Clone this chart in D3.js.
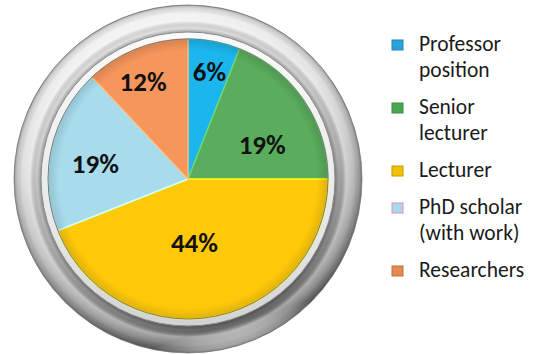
<!DOCTYPE html>
<html>
<head>
<meta charset="utf-8">
<script src="https://cdn.jsdelivr.net/npm/d3@7"></script>
<style>
  html, body { margin: 0; padding: 0; background: #fff; }
  svg { display: block; }
</style>
</head>
<body>
<svg id="chart" width="534" height="354"></svg>
<script>
// ---- data ----
const categories = ["Professor position", "Senior lecturer", "Lecturer", "PhD scholar (with work)", "Researchers"];
const legendLines = [["Professor", "position"], ["Senior", "lecturer"], ["Lecturer"], ["PhD scholar", "(with work)"], ["Researchers"]];
const values = [6, 19, 44, 19, 12];
const labels = ["6%", "19%", "44%", "19%", "12%"];

// ---- styles ----
const colors = ["#1cb6ef", "#5aad5c", "#ffc90a", "#a8dcec", "#f6955c"];
const markerColors = ["#2aa3dc", "#4aa64f", "#f2c100", "#a9d9ea", "#e48a52"];
const markerStroke = ["#1a86b8", "#3a8a3e", "#c89a00", "#d597ad", "#c0703e"];

const svg = d3.select("#chart");
const cx = 188, cy = 179, R = 140, ringOuter = 174;
const defs = svg.append("defs");

// ring gradients
const lg = defs.append("linearGradient").attr("id", "ringLin")
  .attr("x1", "0.3").attr("y1", "0").attr("x2", "0.6").attr("y2", "1");
[[0, "#f4f4f4"], [0.35, "#dadada"], [0.6, "#b4b4b4"], [0.82, "#888888"], [0.93, "#6c6c6c"], [1, "#d0d0d0"]]
  .forEach(([o, c]) => lg.append("stop").attr("offset", o).attr("stop-color", c));

const rg = defs.append("radialGradient").attr("id", "ringRad")
  .attr("gradientUnits", "userSpaceOnUse").attr("cx", 0).attr("cy", 0).attr("r", ringOuter);
[[0, "#000", 0], [146 / ringOuter, "#000", 0.35], [151 / ringOuter, "#000", 0.05], [158 / ringOuter, "#fff", 0.4],
 [166 / ringOuter, "#fff", 0.15], [171 / ringOuter, "#000", 0.1], [1, "#000", 0.3]]
  .forEach(([o, c, a]) => rg.append("stop").attr("offset", o).attr("stop-color", c).attr("stop-opacity", a));

const innerG = defs.append("linearGradient").attr("id", "innerLin")
  .attr("x1", "0").attr("y1", "0").attr("x2", "0").attr("y2", "1");
[[0, "#fafafa"], [0.7, "#e6e6e6"], [1, "#d2d2d2"]]
  .forEach(([o, c]) => innerG.append("stop").attr("offset", o).attr("stop-color", c));

// pie shading overlay
const pieShade = defs.append("radialGradient").attr("id", "pieShade")
  .attr("gradientUnits", "userSpaceOnUse").attr("cx", 0).attr("cy", 0).attr("r", R);
[[0, "#000", 0], [0.92, "#000", 0], [1, "#000", 0.12]]
  .forEach(([o, c, a]) => pieShade.append("stop").attr("offset", o).attr("stop-color", c).attr("stop-opacity", a));

const g = svg.append("g").attr("transform", `translate(${cx},${cy})`);

// bezel
g.append("circle").attr("r", ringOuter).attr("fill", "url(#ringLin)").attr("stroke", "#9a9a9a").attr("stroke-width", 1);
g.append("circle").attr("r", ringOuter).attr("fill", "url(#ringRad)");
g.append("circle").attr("r", 147).attr("fill", "url(#innerLin)").attr("stroke", "#8c8c8c").attr("stroke-width", 1);

// pie
const pie = d3.pie().sort(null).value(d => d);
const arcs = pie(values);
const arc = d3.arc().innerRadius(0).outerRadius(R);

g.selectAll("path.slice").data(arcs).enter().append("path")
  .attr("class", "slice")
  .attr("d", arc)
  .attr("fill", (d, i) => colors[i])
  .attr("stroke", (d, i) => d3.color(colors[i]).brighter(0.6))
  .attr("stroke-width", 1.5)
  .attr("stroke-linejoin", "round");

g.append("circle").attr("r", R).attr("fill", "url(#pieShade)").attr("stroke", "#7a7a7a").attr("stroke-width", 1);

// labels (best-fit placement: radius and angle tweak per slice)
const labelPlace = [[110, 0.5], [82, 9], [64, 5], [94, -3], [108, -3]];
g.selectAll("text.lbl").data(arcs).enter().append("text")
  .attr("class", "lbl")
  .attr("transform", (d, i) => {
    const a = (d.startAngle + d.endAngle) / 2 + labelPlace[i][1] * Math.PI / 180;
    const r = labelPlace[i][0];
    return `translate(${r * Math.sin(a)},${-r * Math.cos(a)})`;
  })
  .attr("text-anchor", "middle")
  .attr("dy", "0.36em")
  .attr("font-family", "Carlito, Calibri, Lato, sans-serif")
  .attr("font-weight", "bold")
  .attr("font-size", 27)
  .attr("fill", "#111")
  .text((d, i) => labels[i]);

// legend
const legend = svg.append("g").attr("class", "legend");
const lineH = 26, itemGap = 37;
let y = 51;
categories.forEach((c, i) => {
  const item = legend.append("g");
  item.append("rect").attr("x", 392).attr("y", y - 11).attr("width", 11).attr("height", 10)
    .attr("fill", markerColors[i]).attr("stroke", markerStroke[i]).attr("stroke-width", 1);
  legendLines[i].forEach((t, j) => {
    item.append("text").attr("x", 419).attr("y", y + j * lineH)
      .attr("font-family", "Carlito, Calibri, Lato, sans-serif")
      .attr("font-size", 21.5).attr("fill", "#1a1a1a").text(t);
  });
  y += legendLines[i].length * lineH + itemGap - lineH;
});
</script>
</body>
</html>
